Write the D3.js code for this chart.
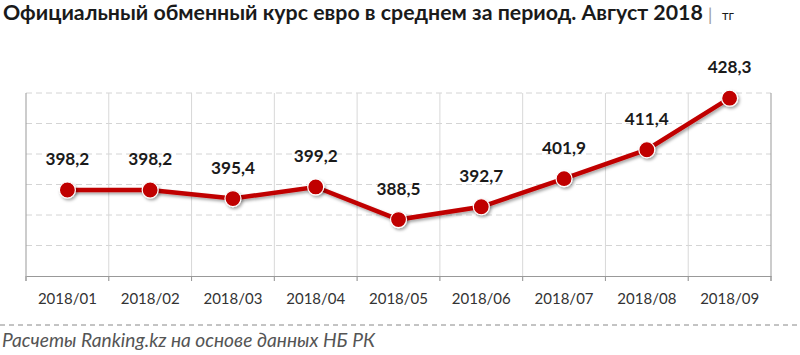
<!DOCTYPE html>
<html><head><meta charset="utf-8">
<script src="https://cdn.jsdelivr.net/npm/d3@7"></script>
<style>body{margin:0;background:#fff}svg{display:block}</style>
</head><body>
<svg id="c" width="800" height="355"></svg>
<script>
const categories = ["2018/01","2018/02","2018/03","2018/04","2018/05","2018/06","2018/07","2018/08","2018/09"];
const values = [398.2, 398.2, 395.4, 399.2, 388.5, 392.7, 401.9, 411.4, 428.3];
const valueLabels = ["398,2","398,2","395,4","399,2","388,5","392,7","401,9","411,4","428,3"];
const yTicks = [370, 380, 390, 400, 410, 420, 430];
const titleText = "Официальный обменный курс евро в среднем за период. Август 2018";
const unitText = "тг";
const sourceText = "Расчеты Ranking.kz на основе данных  НБ РК";

const svg = d3.select("#c");
const font = "Lato, 'Open Sans', sans-serif";
const red = "#c00000";

// fit font size so a text element spans the wanted width
function fit(sel, width){
  sel.each(function(){
    const fs = parseFloat(this.getAttribute("font-size"));
    const w = this.getComputedTextLength();
    this.setAttribute("font-size", (fs*width/w).toFixed(2));
  });
}

const x = d3.scaleBand().domain(categories).range([26, 771]);
const y = d3.scaleLinear().domain([370, 430]).range([276, 93]);

const defs = svg.append("defs");
const f = defs.append("filter").attr("id","sh").attr("x","-50%").attr("y","-50%").attr("width","200%").attr("height","200%");
f.append("feDropShadow").attr("dx",1.5).attr("dy",2).attr("stdDeviation",1.5).attr("flood-color","#000").attr("flood-opacity",0.35);

// title
const t = svg.append("text").attr("x",3).attr("y",20).attr("font-family",font).attr("font-size",18).attr("font-weight","bold").attr("fill","#1a1a1a")
  .text(titleText);
fit(t, 700);
svg.append("text").attr("x",708).attr("y",21).attr("font-family",font).attr("font-size",17).attr("fill","#999").text("|");
svg.append("text").attr("x",722).attr("y",20).attr("font-family",font).attr("font-size",13).attr("fill","#1a1a1a").text(unitText);

// horizontal gridlines
svg.append("g").selectAll("line").data(yTicks.filter(d=>d>370)).join("line")
  .attr("x1",26).attr("x2",771).attr("y1",d=>y(d)).attr("y2",d=>y(d))
  .attr("stroke","#d4d4d4").attr("stroke-width",1).attr("stroke-dasharray","6,4");

// vertical gridlines at band boundaries
const bounds = categories.map(c=>x(c)).concat([x(categories[categories.length-1])+x.bandwidth()]);
svg.append("g").selectAll("line").data(bounds).join("line")
  .attr("x1",d=>d).attr("x2",d=>d).attr("y1",y(430)).attr("y2",281)
  .attr("stroke",(d,i)=> (i===0||i===bounds.length-1)?"#999":"#d8d8d8").attr("stroke-width",1);

// x axis
const xAxis = svg.append("g").attr("transform",`translate(0,${y(370)})`).call(d3.axisBottom(x).tickSize(0).tickPadding(14));
xAxis.select(".domain").attr("stroke","#999");
xAxis.selectAll("text").attr("font-family",font).attr("font-size",14).attr("fill","#333").attr("dy",null).attr("y",28);
fit(xAxis.selectAll("text").filter((d,i)=>i===0), 59);
const axFs = xAxis.select("text").attr("font-size");
xAxis.selectAll("text").attr("font-size",axFs);
svg.append("g").selectAll("line").data(bounds).join("line")
  .attr("x1",d=>d).attr("x2",d=>d).attr("y1",y(370)).attr("y2",281).attr("stroke","#999");

// line
const cx = d=>x(d.c)+x.bandwidth()/2;
const data = categories.map((c,i)=>({c, v: values[i], l: valueLabels[i]}));
svg.append("path").datum(data)
  .attr("d", d3.line().x(cx).y(d=>y(d.v)))
  .attr("fill","none").attr("stroke",red).attr("stroke-width",4.5).attr("filter","url(#sh)");
svg.append("g").selectAll("circle").data(data).join("circle")
  .attr("cx",cx).attr("cy",d=>y(d.v)).attr("r",8)
  .attr("fill",red).attr("stroke","#fff").attr("stroke-width",1.2).attr("filter","url(#sh)");

// value labels
const vl = svg.append("g").selectAll("text").data(data).join("text")
  .attr("x",cx).attr("y",d=>y(d.v)-25).attr("text-anchor","middle")
  .attr("font-family",font).attr("font-size",16).attr("font-weight","bold").attr("fill","#1a1a1a")
  .text(d=>d.l);
fit(vl.filter((d,i)=>i===0), 44);
vl.attr("font-size", vl.attr("font-size"));

// bottom dashed line & source
svg.append("line").attr("x1",0).attr("x2",800).attr("y1",325).attr("y2",325)
  .attr("stroke","#888").attr("stroke-width",1).attr("stroke-dasharray","5,4");
const src = svg.append("text").attr("x",2).attr("y",347).attr("font-family",font).attr("font-size",15)
  .attr("font-style","italic").attr("fill","#555").text(sourceText);
fit(src, 373);
</script>
</body></html>
